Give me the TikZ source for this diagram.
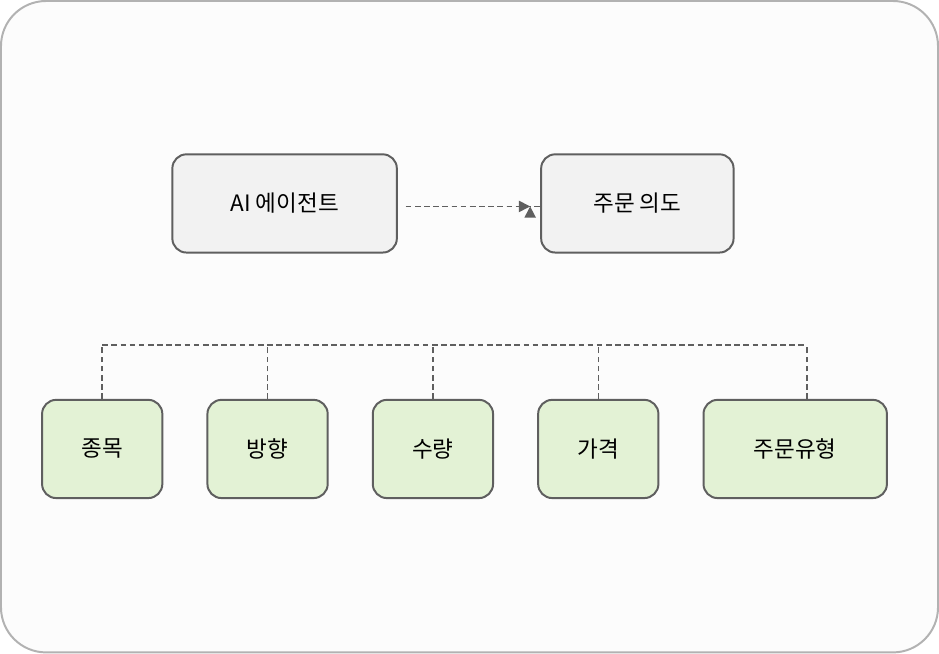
\documentclass[tikz,border=0pt]{standalone}
\usepackage{fontspec}
\setmainfont{Noto Sans CJK KR}
\usetikzlibrary{arrows.meta}
\definecolor{boxgray}{HTML}{F2F2F2}
\definecolor{boxgreen}{HTML}{E3F2D5}
\definecolor{edge}{HTML}{5F5F5F}
\begin{document}
\begin{tikzpicture}[x=0.025cm,y=-0.025cm,
    box/.style={draw=edge, line width=1.4pt, rounded corners=10pt, minimum height=98*0.025cm,
      font=\fontsize{16}{19}\selectfont, inner sep=0pt},
    grey/.style={box, fill=boxgray},
    green/.style={box, fill=boxgreen, minimum width=120*0.025cm},
    link/.style={draw=edge, line width=1.1pt, dash pattern=on 4pt off 2.5pt}]

    \draw[draw=black!30, fill=black!1, line width=1.4pt, rounded corners=32pt] (2,2) rectangle (937,652);

    \node[grey, minimum width=224*0.025cm] (agent) at (285,204) {AI 에이전트};
    \node[grey, minimum width=192*0.025cm] (intent) at (637,204) {주문 의도};
    \draw[link, -{Triangle[length=8pt,width=8pt]}] (agent.east) ++(8,3) coordinate (a1) -- (intent.west |- a1) ++(-10,0) coordinate (a2);
    \draw[link, -{Triangle[length=8pt,width=8pt]}] (a1) -- (a2);

    \node[green] (stock) at (103,449) {종목};
    \node[green] (side) at (268,449) {방향};
    \node[green] (qty) at (433,449) {수량};
    \node[green] (price) at (598,449) {가격};
    \node[green, minimum width=183*0.025cm] (type) at (794.5,449) {주문유형};

    \coordinate (busl) at (103,345);
    \coordinate (busr) at (806,345);
    \draw[link] (busl) -- (busr);
    \foreach \n in {stock,side,qty,price}
      \draw[link] (\n.north) -- (\n.north |- busl);
    \draw[link] (type.north -| busr) -- (busr);

\end{tikzpicture}
\end{document}
